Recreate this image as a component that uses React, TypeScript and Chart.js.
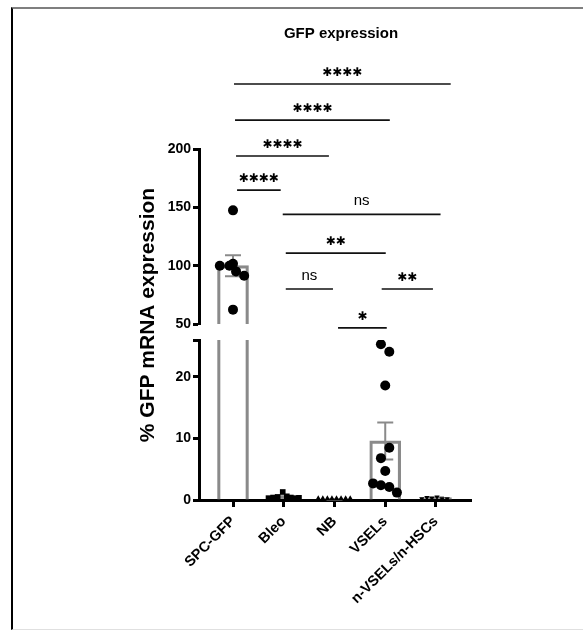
import React, { useEffect, useRef } from "react";
import { Chart, registerables } from "chart.js";

Chart.register(...registerables);

const FONT = "'Liberation Sans', Arial, Helvetica, sans-serif";

// ---- data ----
const categories = ["SPC-GFP", "Bleo", "NB", "VSELs", "n-VSELs/n-HSCs"];
const means = [100, 0.5, 0.1, 9.6, 0.4];
const sems = [9.0, 0.12, 0.02, 3.0, 0.05];

const spcValues = [147.4, 100, 100, 101.7, 95.1, 91.4, 62.3];
const spcOffsets = [0, -0.26, -0.07, 0, 0.06, 0.22, 0];
const bleoValues = [0.3, 0.4, 0.5, 1.3, 0.6, 0.4, 0.3, 0.35];
const bleoOffsets = [-0.3, -0.21, -0.12, -0.02, 0.06, 0.14, 0.22, 0.3];
const nbValues = [0.2, 0.2, 0.2, 0.2, 0.2, 0.2, 0.2, 0.2];
const nbOffsets = [-0.32, -0.23, -0.14, -0.05, 0.04, 0.13, 0.22, 0.31];
const vselValues = [25.3, 24.1, 18.6, 8.5, 6.8, 4.7, 2.7, 2.4, 2.1, 1.2];
const vselOffsets = [-0.085, 0.08, 0, 0.08, -0.085, 0, -0.24, -0.085, 0.08, 0.23];
const nvselValues = [0.2, 0.4, 0.3, 0.5, 0.2, 0.2];
const nvselOffsets = [-0.28, -0.18, -0.08, 0.02, 0.12, 0.22];

const upperTicks = [50, 100, 150, 200];
const lowerTicks = [0, 10, 20];
const upperMin = 50;
const upperMax = 200;
const lowerMax = 26;

const bracketStart = [0.02, 0.04, 0.06, 0.08, 0.98, 1.04, 1.04, 2.93, 2.07];
const bracketEnd = [4.29, 3.09, 1.89, 0.94, 4.09, 3.01, 1.97, 3.94, 3.03];
const bracketLevel = [255.7, 224.8, 194, 164.8, 144, 110.8, 80, 80, 46.6];
const bracketLabel = ["****", "****", "****", "****", "ns", "**", "ns", "**", "*"];

const chartTitle = "GFP expression";
const yTitle = "% GFP mRNA expression";

const BAR_GRAY = "#8a8a8a";

type Group = { values: number[]; offsets: number[]; style: string; radius: number; rotation: number };
const groups: Group[] = [
  { values: spcValues, offsets: spcOffsets, style: "circle", radius: 5, rotation: 0 },
  { values: bleoValues, offsets: bleoOffsets, style: "rect", radius: 4, rotation: 0 },
  { values: nbValues, offsets: nbOffsets, style: "triangle", radius: 3.5, rotation: 0 },
  { values: vselValues, offsets: vselOffsets, style: "circle", radius: 5, rotation: 0 },
  { values: nvselValues, offsets: nvselOffsets, style: "triangle", radius: 3, rotation: 180 },
];

const overlay = {
  id: "overlay",
  beforeDatasetsDraw(chart: any) {
    const ctx = chart.ctx;
    const xs = chart.scales.x;
    ctx.save();
    ctx.strokeStyle = BAR_GRAY;
    ctx.lineWidth = 2;
    means.forEach((m, i) => {
      const ys = m > upperMin ? chart.scales.yHigh : chart.scales.yLow;
      const cx = xs.getPixelForValue(i);
      const t = ys.getPixelForValue(m + sems[i]);
      const b = ys.getPixelForValue(m - sems[i]);
      ctx.beginPath();
      ctx.moveTo(cx, t);
      ctx.lineTo(cx, b);
      ctx.moveTo(cx - 8, t);
      ctx.lineTo(cx + 8, t);
      ctx.moveTo(cx - 8, b);
      ctx.lineTo(cx + 8, b);
      ctx.stroke();
    });
    ctx.restore();
  },
  afterDraw(chart: any) {
    const ctx = chart.ctx;
    const xs = chart.scales.x;
    const ys = chart.scales.yHigh;
    ctx.save();
    ctx.strokeStyle = "#111";
    ctx.lineWidth = 1.7;
    ctx.fillStyle = "#000";
    bracketLabel.forEach((lab, i) => {
      const x1 = xs.getPixelForValue(bracketStart[i]);
      const x2 = xs.getPixelForValue(bracketEnd[i]);
      const y = ys.getPixelForValue(bracketLevel[i]);
      ctx.beginPath();
      ctx.moveTo(x1, y);
      ctx.lineTo(x2, y);
      ctx.stroke();
      const cx = (x1 + x2) / 2;
      if (lab === "ns") {
        ctx.font = `15px ${FONT}`;
        ctx.textAlign = "center";
        ctx.textBaseline = "alphabetic";
        ctx.fillText(lab, cx, y - 9);
      } else {
        ctx.font = `bold 12px 'DejaVu Sans', sans-serif`;
        ctx.textAlign = "center";
        ctx.textBaseline = "middle";
        const n = lab.length;
        const pitch = 10;
        for (let k = 0; k < n; k++) {
          ctx.fillText("\u2731", cx + (k - (n - 1) / 2) * pitch, y - 11.5);
        }
      }
    });
    ctx.font = `bold 15px ${FONT}`;
    ctx.textAlign = "center";
    ctx.textBaseline = "middle";
    ctx.fillText(chartTitle, 341, 34);
    ctx.translate(148, 315);
    ctx.rotate(-Math.PI / 2);
    ctx.font = `bold 21px ${FONT}`;
    ctx.fillText(yTitle, 0, 0);
    ctx.restore();
  },
};

export default function App() {
  const ref = useRef<HTMLCanvasElement>(null);
  useEffect(() => {
    const canvas = ref.current!;
    const datasets: any[] = [];
    groups.forEach((g, i) => {
      const pts = g.values.map((v, k) => ({ x: i + g.offsets[k], y: v }));
      const base = {
        type: "scatter",
        pointStyle: g.style,
        pointRadius: g.radius,
        pointRotation: g.rotation,
        pointBackgroundColor: "#000",
        pointBorderColor: "#000",
        pointBorderWidth: 0,
        order: 0,
      };
      const hi = pts.filter((p) => p.y >= upperMin);
      const lo = pts.filter((p) => p.y < upperMin);
      if (hi.length) datasets.push({ ...base, data: hi, xAxisID: "x", yAxisID: "yHigh" });
      if (lo.length) datasets.push({ ...base, data: lo, xAxisID: "x", yAxisID: "yLow" });
    });
    datasets.push({
      type: "bar",
      data: means.map((m, i) => ({ x: i, y: m })).filter((p) => p.y > upperMin),
      xAxisID: "x",
      yAxisID: "yHigh",
      grouped: false,
      barThickness: 31,
      backgroundColor: "rgba(0,0,0,0)",
      borderColor: BAR_GRAY,
      borderWidth: 2.5,
      borderSkipped: "bottom",
      order: 2,
    });
    datasets.push({
      type: "bar",
      data: means.map((m, i) => ({ x: i, y: Math.min(m, lowerMax) })),
      xAxisID: "x",
      yAxisID: "yLow",
      grouped: false,
      barThickness: 31,
      backgroundColor: "rgba(0,0,0,0)",
      borderColor: BAR_GRAY,
      borderWidth: (c: any) =>
        means[c.dataIndex] > lowerMax
          ? { left: 2.5, right: 2.5, top: 0, bottom: 0 }
          : { left: 2.5, right: 2.5, top: 2.5, bottom: 0 },
      borderSkipped: "bottom",
      order: 2,
    });

    const yCommon = (extra: any) => ({
      type: "linear",
      position: "left",
      stack: "y",
      z: 1,
      afterFit: (s: any) => {
        s.width = 199;
      },
      border: { display: true, color: "#000", width: 3 },
      grid: { display: true, drawOnChartArea: false, drawTicks: true, tickLength: 6, tickWidth: 3, tickColor: "#000" },
      ...extra,
    });

    const chart = new Chart(canvas, {
      type: "bar",
      data: { datasets },
      plugins: [overlay],
      options: {
        responsive: false,
        animation: false,
        devicePixelRatio: 1,
        layout: { padding: { top: 149, right: 112, bottom: 0, left: 0 } },
        plugins: { legend: { display: false }, tooltip: { enabled: false }, title: { display: false } },
        scales: {
          x: {
            type: "linear",
            position: "bottom",
            offset: false,
            min: -0.67,
            max: 4.69,
            z: 1,
            afterBuildTicks: (s: any) => {
              s.ticks = categories.map((_, i) => ({ value: i }));
            },
            afterFit: (s: any) => {
              s.height = 130;
            },
            border: { display: true, color: "#000", width: 3 },
            grid: { display: true, offset: false, drawOnChartArea: false, drawTicks: true, tickLength: 7, tickWidth: 3, tickColor: "#000" },
            ticks: {
              autoSkip: false,
              minRotation: 45,
              maxRotation: 45,
              padding: 6,
              color: "#000",
              font: { family: FONT, size: 14.5, weight: "bold" },
              callback: (v: any) => categories[v] ?? "",
            },
          },
          yHigh: yCommon({
            min: upperMin,
            max: upperMax,
            weight: 3,
            stackWeight: 175,
            afterBuildTicks: (s: any) => {
              s.ticks = upperTicks.map((v) => ({ value: v }));
            },
            ticks: { padding: 2, color: "#000", font: { family: FONT, size: 14, weight: "bold" } },
          }),
          yGap: {
            type: "linear",
            position: "left",
            stack: "y",
            weight: 2,
            stackWeight: 16,
            display: false,
          },
          yLow: yCommon({
            min: 0,
            max: lowerMax,
            weight: 1,
            stackWeight: 160,
            afterBuildTicks: (s: any) => {
              s.ticks = [...lowerTicks, lowerMax].map((v) => ({ value: v }));
            },
            ticks: {
              padding: 2,
              color: "#000",
              font: { family: FONT, size: 14, weight: "bold" },
              callback: (v: any) => (lowerTicks.includes(v) ? String(v) : ""),
            },
          }),
        },
      } as any,
    } as any);
    return () => chart.destroy();
  }, []);

  return (
    <div style={{ position: "fixed", left: 0, top: 0, width: 583, height: 630, background: "#fff", overflow: "hidden" }}>
      <div
        style={{
          position: "absolute",
          left: 11,
          top: 7,
          width: 572,
          height: 623,
          boxSizing: "border-box",
          borderTop: "2px solid #7f7f7f",
          borderLeft: "2px solid #000",
          borderBottom: "1px solid #e0e0e0",
        }}
      />
      <canvas ref={ref} width={583} height={630} style={{ position: "absolute", left: 0, top: 0, width: 583, height: 630 }} />
    </div>
  );
}
